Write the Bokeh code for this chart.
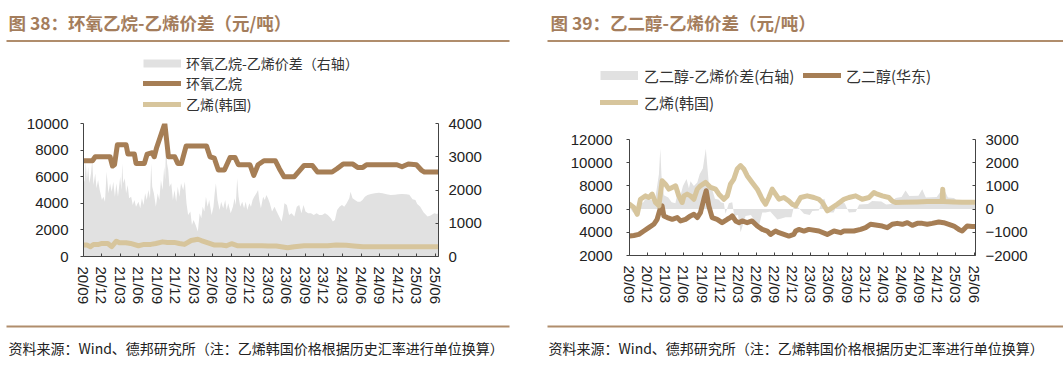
import numpy as np
import pandas as pd
from bokeh.plotting import figure
from bokeh.models import (Range1d, LinearAxis, FixedTicker, Legend, LegendItem, DatetimeTickFormatter)
from bokeh.layouts import row, column
from bokeh.core.properties import value
from bokeh.embed import file_html
from bokeh.resources import INLINE

# ---------------- data ----------------
tick_labels = ["20/09", "20/12", "21/03", "21/06", "21/09", "21/12", "22/03", "22/06",
               "22/09", "22/12", "23/03", "23/06", "23/09", "23/12", "24/03", "24/06",
               "24/09", "24/12", "25/03", "25/06"]

left_ticks = [0, 2000, 4000, 6000, 8000, 10000]
left_right_ticks = [0, 1000, 2000, 3000, 4000]
right_left_ticks = [2000, 4000, 6000, 8000, 10000, 12000]
right_right_ticks = [-2000, -1000, 0, 1000, 2000, 3000]

titles = ["图 38：环氧乙烷-乙烯价差（元/吨）", "图 39：乙二醇-乙烯价差（元/吨）"]
source_note = "资料来源：Wind、德邦研究所（注：乙烯韩国价格根据历史汇率进行单位换算）"
legend_l = ["环氧乙烷-乙烯价差（右轴）", "环氧乙烷", "乙烯(韩国)"]
legend_r = ["乙二醇-乙烯价差(右轴)", "乙二醇(华东)", "乙烯(韩国)"]

# Chart 38: ethylene oxide (EO), yuan/t
eo_dates = ["2020-09-01", "2020-10-15", "2020-10-29", "2021-01-10", "2021-01-22", "2021-02-01",
            "2021-02-15", "2021-03-30", "2021-04-08", "2021-05-10", "2021-05-18", "2021-06-28",
            "2021-07-12", "2021-08-06", "2021-08-16", "2021-08-28", "2021-10-07", "2021-10-25",
            "2021-11-25", "2021-12-10", "2021-12-28", "2022-01-20", "2022-05-01", "2022-05-18",
            "2022-06-08", "2022-06-28", "2022-07-28", "2022-08-25", "2022-09-18", "2022-10-05",
            "2022-12-01", "2022-12-20", "2023-01-10", "2023-02-08", "2023-04-05", "2023-04-25",
            "2023-05-18", "2023-07-08", "2023-08-25", "2023-10-05", "2023-10-30", "2024-01-10",
            "2024-02-03", "2024-03-05", "2024-04-20", "2024-05-15", "2024-06-10", "2024-06-28",
            "2024-11-25", "2024-12-20", "2025-01-20", "2025-03-01", "2025-03-25", "2025-04-10",
            "2025-06-18"]
eo_values = [7200, 7200, 7500, 7500, 6800, 6900,
             8400, 8400, 7700, 7700, 7000, 7000,
             7700, 7800, 7500, 8200, 10000, 7500,
             7500, 7000, 7000, 8300, 8300, 7500,
             7400, 6500, 6500, 7450, 7450, 6900,
             6900, 6100, 6900, 7200, 7200, 6600,
             6000, 6000, 6850, 6850, 6350, 6350,
             6600, 6960, 6960, 6700, 6700, 6900,
             6900, 6750, 6950, 6900, 6500, 6350,
             6350]

# Chart 38: ethylene (Korea)
eth_l_dates = ["2020-09-01", "2020-09-18", "2020-10-05", "2020-10-20", "2020-11-15", "2020-12-01",
               "2020-12-30", "2021-01-18", "2021-02-10", "2021-02-25", "2021-03-30", "2021-04-21",
               "2021-05-30", "2021-06-27", "2021-07-30", "2021-08-24", "2021-09-26", "2021-10-20",
               "2021-11-23", "2021-12-18", "2022-01-12", "2022-02-14", "2022-03-19", "2022-04-05",
               "2022-05-08", "2022-06-10", "2022-07-14", "2022-08-07", "2022-09-01", "2022-09-29",
               "2023-01-28", "2023-03-01", "2023-04-10", "2023-06-05", "2023-07-08", "2023-08-25",
               "2023-12-20", "2024-01-30", "2024-03-20", "2024-04-26", "2024-06-10", "2025-06-18"]
eth_l_values = [860, 860, 740, 910, 910, 980,
                980, 740, 1150, 1030, 1030, 980,
                810, 910, 910, 980, 1100, 1060,
                1060, 980, 910, 1200, 1300, 1200,
                1030, 860, 860, 810, 960, 810,
                810, 790, 790, 660, 740, 810,
                810, 860, 840, 790, 740, 740]

# Chart 38: EO - ethylene spread (right axis)
spread_l_dates = ["2020-09-01", "2020-09-06", "2020-09-12", "2020-09-18", "2020-09-24", "2020-09-30",
                  "2020-10-08", "2020-10-14", "2020-10-20", "2020-10-29", "2020-11-04", "2020-11-12",
                  "2020-11-20", "2020-12-01", "2020-12-08", "2020-12-16", "2020-12-24", "2021-01-02",
                  "2021-01-10", "2021-01-18", "2021-01-26", "2021-02-03", "2021-02-10", "2021-02-18",
                  "2021-03-01", "2021-03-07", "2021-03-11", "2021-03-16", "2021-03-24", "2021-03-30",
                  "2021-04-07", "2021-04-14", "2021-04-24", "2021-05-02", "2021-05-10", "2021-05-18",
                  "2021-05-30", "2021-06-08", "2021-06-16", "2021-06-24", "2021-07-02", "2021-07-10",
                  "2021-07-18", "2021-07-26", "2021-08-01", "2021-08-06", "2021-08-14", "2021-08-24",
                  "2021-09-02", "2021-09-10", "2021-09-18", "2021-09-26", "2021-10-04", "2021-10-09",
                  "2021-10-13", "2021-10-18", "2021-10-24", "2021-10-30", "2021-11-08", "2021-11-16",
                  "2021-11-24", "2021-12-02", "2021-12-10", "2021-12-18", "2021-12-26", "2022-01-06",
                  "2022-01-14", "2022-01-22", "2022-01-30", "2022-02-10", "2022-02-18", "2022-02-26",
                  "2022-03-08", "2022-03-19", "2022-03-28", "2022-04-05", "2022-04-12", "2022-04-20",
                  "2022-04-28", "2022-05-06", "2022-05-14", "2022-05-26", "2022-06-04", "2022-06-10",
                  "2022-06-16", "2022-06-24", "2022-07-04", "2022-07-12", "2022-07-22", "2022-08-01",
                  "2022-08-08", "2022-08-16", "2022-08-28", "2022-09-08", "2022-09-16", "2022-09-22",
                  "2022-09-29", "2022-10-06", "2022-10-14", "2022-10-24", "2022-11-02", "2022-11-10",
                  "2022-11-18", "2022-11-28", "2022-12-06", "2022-12-14", "2022-12-22", "2023-01-02",
                  "2023-01-10", "2023-01-16", "2023-01-24", "2023-02-04", "2023-02-12", "2023-02-20",
                  "2023-02-28", "2023-03-09", "2023-03-20", "2023-04-01", "2023-04-12", "2023-04-24",
                  "2023-05-06", "2023-05-14", "2023-05-20", "2023-06-01", "2023-06-12", "2023-06-24",
                  "2023-07-08", "2023-07-20", "2023-08-01", "2023-08-12", "2023-08-22", "2023-09-01",
                  "2023-09-14", "2023-09-28", "2023-10-12", "2023-10-26", "2023-11-08", "2023-11-22",
                  "2023-12-06", "2023-12-20", "2024-01-04", "2024-01-14", "2024-01-24", "2024-02-04",
                  "2024-02-16", "2024-02-28", "2024-03-10", "2024-03-22", "2024-04-04", "2024-04-10",
                  "2024-04-20", "2024-05-02", "2024-05-15", "2024-05-28", "2024-06-08", "2024-06-20",
                  "2024-07-03", "2024-07-20", "2024-08-08", "2024-08-28", "2024-09-15", "2024-10-05",
                  "2024-10-25", "2024-11-15", "2024-12-01", "2024-12-20", "2025-01-10", "2025-01-25",
                  "2025-02-10", "2025-02-24", "2025-03-05", "2025-03-20", "2025-04-05", "2025-04-25",
                  "2025-05-10", "2025-05-28", "2025-06-10", "2025-06-18"]
spread_l_values = [2300, 2250, 2850, 2300, 2700, 2200,
                   2500, 2900, 2150, 2500, 2050, 2300,
                   2000, 1700, 1800, 1650, 2550, 1900,
                   2200, 1950, 2250, 1800, 2200, 1800,
                   2400, 2000, 2800, 2200, 2350, 1900,
                   2150, 1750, 1800, 1550, 1700, 1500,
                   1650, 1450, 1750, 1550, 1900, 1700,
                   2000, 1750, 2800, 2100, 1900, 1500,
                   1900, 1700, 2300, 2000, 2700, 2300,
                   3600, 2800, 2600, 2100, 2200, 1700,
                   2000, 1650, 2100, 1800, 2200, 2000,
                   2250, 1600, 1250, 1350, 950, 1100,
                   950, 750, 1300, 1150, 1500, 1350,
                   1800, 1500, 1700, 1250, 1500, 1900,
                   2200, 1700, 1400, 1650, 1450, 1700,
                   1400, 1600, 1300, 1500, 1750, 1550,
                   2350, 1800, 1500, 1650, 1450, 1650,
                   1400, 1600, 1500, 1700, 1800, 1900,
                   2000, 1700, 1450, 1800, 1700, 1850,
                   1750, 1600, 1350, 1500, 1350, 1200,
                   1050, 1300, 1600, 1550, 1250, 1300,
                   1200, 1500, 1550, 1300, 1550, 1350,
                   1300, 1300, 1250, 1300, 1250, 1250,
                   1300, 1250, 1150, 1050, 1100, 1400,
                   1500, 1550, 1500, 1600, 1750, 1950,
                   1750, 1700, 1650, 1650, 1700, 1800,
                   1850, 1880, 1900, 1920, 1900, 1870,
                   1850, 1860, 1870, 1880, 1870, 1860,
                   1720, 1700, 1580, 1500, 1330, 1200,
                   1230, 1300, 1280, 1300]

# Chart 39: ethylene glycol (East China)
eg_dates = ["2020-09-01", "2020-09-23", "2020-10-18", "2020-11-12", "2020-12-07", "2021-01-01",
            "2021-01-18", "2021-02-04", "2021-02-12", "2021-02-21", "2021-03-10", "2021-04-04",
            "2021-04-29", "2021-05-16", "2021-06-10", "2021-07-05", "2021-07-22", "2021-08-08",
            "2021-08-24", "2021-09-10", "2021-09-22", "2021-10-05", "2021-10-22", "2021-11-16",
            "2021-12-11", "2022-01-06", "2022-01-22", "2022-01-31", "2022-02-17", "2022-03-05",
            "2022-03-22", "2022-04-16", "2022-05-11", "2022-06-06", "2022-07-01", "2022-07-26",
            "2022-08-12", "2022-09-06", "2022-09-23", "2022-10-18", "2022-11-12", "2022-12-07",
            "2022-12-16", "2023-01-01", "2023-01-27", "2023-02-20", "2023-04-12", "2023-05-24",
            "2023-06-27", "2023-07-30", "2023-08-16", "2023-10-05", "2023-11-08", "2023-12-03",
            "2023-12-28", "2024-01-31", "2024-02-25", "2024-03-21", "2024-04-15", "2024-05-10",
            "2024-06-05", "2024-06-30", "2024-07-25", "2024-08-19", "2024-09-13", "2024-10-08",
            "2024-11-02", "2024-12-05", "2024-12-30", "2025-01-25", "2025-02-19", "2025-03-16",
            "2025-04-02", "2025-04-27", "2025-05-22", "2025-06-08"]
eg_values = [3680, 3730, 3820, 4110, 4400, 4690,
             5120, 6130, 6280, 5410, 5270, 5120,
             5270, 4980, 5120, 5410, 5550, 5270,
             5700, 6850, 7580, 6280, 5270, 5120,
             4830, 5120, 5270, 5410, 4980, 4830,
             4980, 4830, 4980, 4540, 4250, 4110,
             3820, 4110, 3970, 3820, 3680, 3820,
             4110, 4250, 4110, 4250, 4110, 3820,
             4110, 3970, 4110, 4110, 4250, 4400,
             4690, 4600, 4540, 4400, 4690, 4770,
             4690, 4830, 4600, 4770, 4770, 4690,
             4770, 4890, 4830, 4690, 4540, 4250,
             4110, 4540, 4500, 4500]

# Chart 39: ethylene (Korea)
eth_r_dates = ["2020-09-01", "2020-09-23", "2020-10-10", "2020-10-26", "2020-11-21", "2020-12-07",
               "2020-12-24", "2021-01-10", "2021-01-27", "2021-02-12", "2021-03-01", "2021-03-18",
               "2021-04-04", "2021-04-21", "2021-05-07", "2021-05-24", "2021-06-02", "2021-06-18",
               "2021-07-05", "2021-07-22", "2021-08-08", "2021-08-24", "2021-09-19", "2021-10-14",
               "2021-11-08", "2021-11-25", "2021-12-20", "2022-01-06", "2022-01-22", "2022-02-08",
               "2022-02-25", "2022-03-14", "2022-03-30", "2022-04-16", "2022-05-11", "2022-06-06",
               "2022-07-01", "2022-07-18", "2022-08-03", "2022-08-20", "2022-09-06", "2022-09-23",
               "2022-10-18", "2022-11-12", "2022-11-29", "2022-12-16", "2023-01-10", "2023-02-12",
               "2023-03-18", "2023-04-12", "2023-04-29", "2023-05-24", "2023-06-18", "2023-07-13",
               "2023-08-16", "2023-09-10", "2023-10-14", "2023-11-16", "2023-12-20", "2024-01-14",
               "2024-01-31", "2024-02-25", "2024-03-29", "2024-04-15", "2024-05-02", "2024-06-05",
               "2024-08-19", "2024-10-08", "2024-12-05", "2024-12-22", "2024-12-25", "2024-12-29",
               "2025-02-19", "2025-04-02", "2025-06-08"]
eth_r_values = [6420, 6130, 5550, 6850, 7140, 7000,
                7290, 6570, 6280, 8440, 8150, 7720,
                7870, 8010, 7140, 6570, 7140, 7290,
                7140, 6850, 7720, 8010, 8300, 7870,
                7720, 7290, 6850, 7140, 8150, 8590,
                9460, 9750, 9460, 8880, 8300, 7720,
                6850, 6420, 7000, 7720, 7290, 6850,
                7000, 6700, 6420, 6280, 7000, 7140,
                7000, 6850, 6570, 5850, 6130, 6420,
                6850, 7000, 7140, 6850, 7000, 7430,
                7290, 7140, 7000, 6700, 6570, 6600,
                6620, 6650, 6650, 6650, 7720, 6650,
                6620, 6600, 6580]

# Chart 39: ethylene glycol - ethylene spread (right axis)
spread_r_dates = ["2020-09-01", "2020-09-15", "2020-10-01", "2020-10-18", "2020-11-10", "2020-11-21",
                  "2020-12-20", "2021-01-05", "2021-01-27", "2021-02-03", "2021-02-09", "2021-02-21",
                  "2021-03-15", "2021-04-01", "2021-04-20", "2021-05-01", "2021-05-16", "2021-05-28",
                  "2021-06-15", "2021-06-27", "2021-07-05", "2021-07-22", "2021-08-08", "2021-08-20",
                  "2021-09-05", "2021-09-20", "2021-10-05", "2021-10-20", "2021-11-05", "2021-11-25",
                  "2021-12-05", "2021-12-20", "2021-12-28", "2022-01-14", "2022-01-31", "2022-02-10",
                  "2022-03-01", "2022-03-14", "2022-03-25", "2022-04-08", "2022-05-05", "2022-05-20",
                  "2022-06-14", "2022-07-01", "2022-07-18", "2022-08-10", "2022-09-15", "2022-10-05",
                  "2022-10-26", "2022-11-25", "2022-12-07", "2022-12-20", "2023-01-27", "2023-02-25",
                  "2023-03-10", "2023-04-12", "2023-04-29", "2023-05-10", "2023-05-30", "2023-06-25",
                  "2023-07-20", "2023-08-20", "2023-09-10", "2023-10-14", "2023-11-01", "2023-12-15",
                  "2024-01-05", "2024-02-20", "2024-03-15", "2024-04-10", "2024-05-02", "2024-06-01",
                  "2024-06-21", "2024-07-10", "2024-08-25", "2024-09-13", "2024-10-01", "2024-11-25",
                  "2024-12-28", "2025-01-20", "2025-02-20", "2025-03-15", "2025-04-10", "2025-05-10",
                  "2025-06-08"]
spread_r_values = [100, -100, -220, 200, 300, 450,
                   400, 250, 1500, 2600, 1440, 600,
                   500, 300, 250, 700, 600, 1000,
                   1300, 900, 1200, 1000, 1150, 1500,
                   1750, 2600, 1100, 900, 450, 400,
                   300, 250, -200, 250, 300, -300,
                   -250, -1000, -700, -300, -250, -450,
                   -750, -150, -150, -100, -450, -400,
                   -350, -350, 100, 150, -200, -250,
                   -80, -60, 400, 450, -150, -150,
                   280, 250, -150, -120, 200, 220,
                   350, 330, 200, 220, 480, 520,
                   800, 560, 580, 860, 500, 520,
                   930, 500, 480, 300, 280, 220,
                   200]

# ---------------- style ----------------
BROWN = "#A67E55"
TAN = "#D7C59C"
GRAY = "#E1E1E1"
TITLE_C = "#A47D5C"
RULE_C = "#B08D6C"
TXT = "#222222"
CJK = "Noto Sans CJK SC"
NUM = "Liberation Sans"
W = 1063

tick_ms = [pd.Timestamp("20%s-%s-01" % tuple(t.split("/"))).value // 10**6 for t in tick_labels]


def style_xaxis(p):
    xa = p.xaxis[0]
    xa.ticker = FixedTicker(ticks=tick_ms)
    xa.formatter = DatetimeTickFormatter(days="%y/%m", months="%y/%m", years="%y/%m")
    xa.major_label_overrides = {t: l for t, l in zip(tick_ms, tick_labels)}
    xa.major_label_orientation = "vertical"
    xa.major_tick_in = 3
    xa.major_tick_out = 0
    xa.minor_tick_line_color = None
    xa.major_label_standoff = 10
    xa.major_label_text_font = NUM
    xa.major_label_text_font_size = "15px"
    xa.major_label_text_color = TXT
    xa.axis_line_color = "#444444"
    xa.major_tick_line_color = "#444444"


def style_yaxis(ax, ticks, side_in, standoff):
    ax.ticker = FixedTicker(ticks=ticks)
    ax.major_tick_in = 3 if side_in else 0
    ax.major_tick_out = 0 if side_in else 3
    ax.minor_tick_line_color = None
    ax.major_label_standoff = standoff
    ax.major_label_text_font = NUM
    ax.major_label_text_font_size = "15px"
    ax.major_label_text_color = TXT
    ax.axis_line_color = "#444444"
    ax.major_tick_line_color = "#444444"


def blank(height, y_top, y_bottom):
    f = figure(width=W, height=height, x_range=Range1d(0, W), y_range=Range1d(y_bottom, y_top),
               x_axis_location=None, y_axis_location=None, toolbar_location=None,
               output_backend="svg", min_border=0, frame_align=False)
    f.outline_line_color = None
    f.grid.visible = False
    return f


START = pd.Timestamp("2020-09-01")

# ---------------- header (titles, rules, legends) ----------------
HEAD_H = 114
head = blank(HEAD_H, 0, HEAD_H)
head.text(x=[8, 550], y=[22, 22], text=titles, text_font=value(CJK), text_font_size="17.5px",
          text_font_style="bold", text_color=TITLE_C, text_baseline="middle", text_align="left")
head.segment(x0=[6, 547], x1=[509, W], y0=[40.5, 40.5], y1=[40.5, 40.5], line_color=RULE_C,
             line_width=2)

NAN = np.array([np.nan])


def add_leg(label, color, width, cap, x, yc, standoff, size):
    proxy = head.line(x=NAN, y=NAN, line_color=color, line_width=width, line_cap=cap)
    leg = Legend(items=[LegendItem(label=label, renderers=[proxy])],
                 location=(x, HEAD_H - yc - 12), glyph_width=38, glyph_height=24, label_height=24,
                 label_standoff=standoff, padding=0, margin=0, spacing=0, border_line_color=None,
                 background_fill_alpha=0, label_text_font=CJK, label_text_font_size=size,
                 label_text_color="#333333")
    head.add_layout(leg)


add_leg(legend_l[0], GRAY, 8, "butt", 143, 62.8, 5, "14px")
add_leg(legend_l[1], BROWN, 5, "round", 143, 83.3, 5, "14px")
add_leg(legend_l[2], TAN, 5, "round", 143, 103.8, 5, "14px")
add_leg(legend_r[0], GRAY, 9, "butt", 600, 75, 6, "15px")
add_leg(legend_r[1], BROWN, 5, "round", 803, 75, 5, "15px")
add_leg(legend_r[2], TAN, 5, "round", 600, 102, 6, "15px")

# ---------------- chart 38 ----------------
CH_H = 312 - HEAD_H
p1 = figure(width=545, height=CH_H, x_axis_type="datetime", output_backend="svg",
            toolbar_location=None, frame_align=False,
            x_range=Range1d(START, pd.Timestamp("2025-06-18")), y_range=Range1d(0, 10000),
            min_border_left=83, min_border_right=107, min_border_top=9, min_border_bottom=56)
p1.extra_y_ranges = {"r": Range1d(0, 4000)}
p1.outline_line_color = None
p1.grid.visible = False
style_xaxis(p1)
style_yaxis(p1.yaxis[0], left_ticks, False, 12)
ax_r1 = LinearAxis(y_range_name="r")
style_yaxis(ax_r1, left_right_ticks, True, 10)
p1.add_layout(ax_r1, "right")

p1.varea(x=pd.to_datetime(spread_l_dates), y1=0, y2=spread_l_values, fill_color=GRAY,
         y_range_name="r")
p1.line(pd.to_datetime(eth_l_dates), eth_l_values, line_color=TAN, line_width=5,
        line_join="round", line_cap="round")
p1.line(pd.to_datetime(eo_dates), eo_values, line_color=BROWN, line_width=5,
        line_join="round", line_cap="round")

# ---------------- chart 39 ----------------
p2 = figure(width=W - 545, height=CH_H, x_axis_type="datetime", output_backend="svg",
            toolbar_location=None, frame_align=False,
            x_range=Range1d(START, pd.Timestamp("2025-06-08")), y_range=Range1d(2000, 12000),
            min_border_left=84, min_border_right=88, min_border_top=139 - HEAD_H,
            min_border_bottom=57)
p2.extra_y_ranges = {"r": Range1d(-2000, 3000)}
p2.outline_line_color = None
p2.grid.visible = False
style_xaxis(p2)
style_yaxis(p2.yaxis[0], right_left_ticks, False, 14)
ax_r2 = LinearAxis(y_range_name="r")
style_yaxis(ax_r2, right_right_ticks, True, 10)
p2.add_layout(ax_r2, "right")

p2.varea(x=pd.to_datetime(spread_r_dates), y1=0, y2=spread_r_values, fill_color=GRAY,
         y_range_name="r")
p2.line(pd.to_datetime(eg_dates), eg_values, line_color=BROWN, line_width=5,
        line_join="round", line_cap="round")
p2.line(pd.to_datetime(eth_r_dates), eth_r_values, line_color=TAN, line_width=5,
        line_join="round", line_cap="round")

# ---------------- footer ----------------
FOOT_TOP = 312
foot = blank(366 - FOOT_TOP, FOOT_TOP, 366)
foot.segment(x0=[6, 547], x1=[509, W], y0=[326, 326], y1=[326, 326], line_color=RULE_C,
             line_width=2)
foot.text(x=[8, 548], y=[347, 347], text=[source_note, source_note], text_font=value(CJK),
          text_font_size="14px", text_color=TXT, text_baseline="middle", text_align="left")

layout = column(head, row(p1, p2, spacing=0), foot, spacing=0)
open("out.html", "w").write(file_html(layout, INLINE))
